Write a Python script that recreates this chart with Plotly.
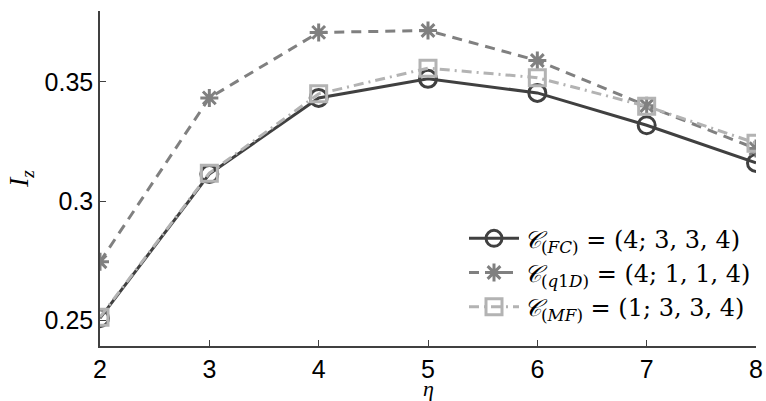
import plotly.graph_objects as go

eta = [2, 3, 4, 5, 6, 7, 8]
fc = [0.2508, 0.3113, 0.3433, 0.3513, 0.3454, 0.3318, 0.3160]
q1d = [0.2745, 0.3433, 0.3708, 0.3716, 0.3590, 0.3400, 0.3220]
mf = [0.2512, 0.3117, 0.3450, 0.3558, 0.3518, 0.3398, 0.3243]

names = [
    "<i>𝒞</i><sub>(<i>FC</i>)</sub> = (4; 3, 3, 4)",
    "<i>𝒞</i><sub>(<i>q</i>1<i>D</i>)</sub> = (4; 1, 1, 4)",
    "<i>𝒞</i><sub>(<i>MF</i>)</sub> = (1; 3, 3, 4)",
]
yticks = [0.25, 0.30, 0.35]
yticklabels = ["0.25", "0.3", "0.35"]

fig = go.Figure()
fig.add_trace(go.Scatter(
    x=eta, y=fc, name=names[0], mode="lines+markers",
    line=dict(color="#404040", width=3),
    marker=dict(symbol="circle-open", size=17, color="#404040", line=dict(width=3)),
))
fig.add_trace(go.Scatter(
    x=eta, y=q1d, name=names[1], mode="lines+markers",
    line=dict(color="#808080", width=3, dash="10px,7px"),
    marker=dict(symbol="asterisk-open", size=15, color="#808080", line=dict(width=3, color="#808080")),
))
fig.add_trace(go.Scatter(
    x=eta, y=mf, name=names[2], mode="lines+markers",
    line=dict(color="#b3b3b3", width=3, dash="10px,5px,2px,5px"),
    marker=dict(symbol="square-open", size=16, color="#b3b3b3", line=dict(width=3)),
))

fig.update_layout(
    width=766, height=401,
    margin=dict(l=100, r=10, t=11, b=55),
    paper_bgcolor="white", plot_bgcolor="white",
    font=dict(family="Liberation Sans, Arial, sans-serif", size=25, color="black"),
    showlegend=True,
    legend=dict(
        x=1.0, xanchor="right", y=0.05, yanchor="bottom",
        bgcolor="rgba(255,255,255,0)",
        font=dict(family="DejaVu Serif, serif", size=24, color="black"),
        itemwidth=50, tracegroupgap=0,
    ),
    xaxis=dict(
        range=[2, 8], tickvals=eta, ticks="inside", ticklen=6, tickcolor="#404040",
        showline=True, linecolor="#404040", linewidth=1.5, showgrid=False, zeroline=False,
        automargin=False,
    ),
    yaxis=dict(
        range=[0.2391, 0.3798], tickvals=yticks, ticktext=yticklabels,
        ticks="inside", ticklen=6, tickcolor="#404040",
        showline=True, linecolor="#404040", linewidth=1.5, showgrid=False, zeroline=False,
        automargin=False,
        title=dict(text="<i>I</i><sub><i>z</i></sub>", font=dict(family="Liberation Serif, serif", size=28), standoff=8),
    ),
    annotations=[dict(
        text="<i>η</i>", xref="x", yref="paper", x=5, y=-0.128,
        xanchor="center", yanchor="middle", showarrow=False,
        font=dict(family="Liberation Serif, serif", size=22, color="black"),
    )],
)

fig.write_html("out.html")
